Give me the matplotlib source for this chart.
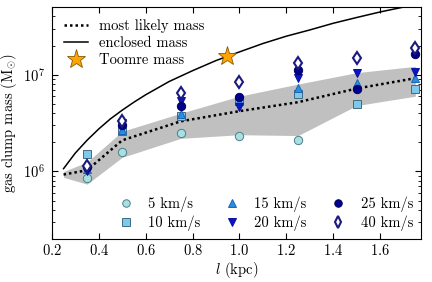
import matplotlib
matplotlib.use("Agg")
import matplotlib.pyplot as plt

plt.rcParams["font.family"] = ["cmr10", "DejaVu Serif"]
plt.rcParams["mathtext.fontset"] = "cm"
plt.rcParams["axes.formatter.use_mathtext"] = True

# clump size (kpc)
l_vals = [0.35, 0.5, 0.75, 1.0, 1.25, 1.5, 1.75]

# gas clump masses per velocity dispersion (Msun)
l_5 = [0.35, 0.5, 0.75, 1.0, 1.25]
m_5 = [8.5e5, 1.6e6, 2.5e6, 2.35e6, 2.1e6]
m_10 = [1.5e6, 2.6e6, 3.7e6, 5.3e6, 6.35e6, 5.0e6, 7.2e6]
m_15 = [1.05e6, 2.7e6, 3.9e6, 5.3e6, 7.3e6, 8.3e6, 9.3e6]
m_20 = [1.0e6, 3.2e6, 5.3e6, 4.6e6, 9.3e6, 1.05e7, 1.07e7]
m_25 = [1.1e6, 3.05e6, 4.7e6, 5.9e6, 1.13e7, 7.2e6, 1.65e7]
m_40 = [1.15e6, 3.3e6, 6.5e6, 8.5e6, 1.33e7, 1.5e7, 1.9e7]

# most likely mass and its range
likely_l = [0.25, 0.35, 0.5, 0.75, 1.0, 1.25, 1.5, 1.75]
likely_m = [9.3e5, 1.03e6, 2.1e6, 3.3e6, 4.2e6, 5.2e6, 7.2e6, 9.2e6]
band_lo = [8.7e5, 7.4e5, 1.4e6, 2.2e6, 2.4e6, 2.35e6, 4.8e6, 6.0e6]
band_hi = [1.0e6, 1.25e6, 2.6e6, 4.0e6, 6.0e6, 8.0e6, 1.05e7, 1.22e7]

# enclosed mass
encl_l = [0.25, 0.3, 0.35, 0.4, 0.45, 0.5, 0.55, 0.6, 0.7, 0.8, 0.9, 1.0,
          1.1, 1.2, 1.3, 1.4, 1.5, 1.6, 1.7, 1.75]
encl_m = [1.07e6, 1.55e6, 2.1e6, 2.75e6, 3.5e6, 4.3e6, 5.2e6, 6.2e6, 8.5e6,
          1.1e7, 1.4e7, 1.72e7, 2.1e7, 2.5e7, 2.9e7, 3.4e7, 3.9e7, 4.45e7,
          5.0e7, 5.3e7]

# Toomre mass
toomre_l = [0.945]
toomre_m = [1.57e7]

fs = 10.5

fig = plt.figure(figsize=(4.32, 2.82), dpi=100)
ax = fig.add_axes([0.120, 0.152, 0.855, 0.823])

ax.fill_between(likely_l, band_lo, band_hi, color="#c0c0c0", lw=0, zorder=1)
h_likely, = ax.plot(likely_l, likely_m, color="black", ls=(0, (1, 1.2)), lw=1.8,
                    label="most likely mass", zorder=2)
h_encl, = ax.plot(encl_l, encl_m, color="black", lw=1.1,
                  label="enclosed mass", zorder=2)
h_toomre, = ax.plot(toomre_l, toomre_m, ls="none", marker="*", ms=14,
                    mfc="#ffa500", mec="#8a5a00", mew=0.6,
                    label="Toomre mass", zorder=5)

ms = 6
h5, = ax.plot(l_5, m_5, ls="none", marker="o", ms=ms, mfc="#a8dfe3",
              mec="#4f7f86", mew=0.7, label="5 km/s", zorder=3)
h10, = ax.plot(l_vals, m_10, ls="none", marker="s", ms=ms, mfc="#80c8e8",
               mec="#3f6c84", mew=0.7, label="10 km/s", zorder=3)
h15, = ax.plot(l_vals, m_15, ls="none", marker="^", ms=ms, mfc="#2a8ee0",
               mec="#1c64b4", mew=0.7, label="15 km/s", zorder=3)
h20, = ax.plot(l_vals, m_20, ls="none", marker="v", ms=ms, mfc="#0a14c8",
               mec="#0a0f9a", mew=0.7, label="20 km/s", zorder=3)
h25, = ax.plot(l_vals, m_25, ls="none", marker="o", ms=ms, mfc="#000088",
               mec="#000066", mew=0.7, label="25 km/s", zorder=3)
h40, = ax.plot(l_vals, m_40, ls="none", marker="d", ms=ms + 0.5, mfc="white",
               mec="#1a1a80", mew=1.5, label="40 km/s", zorder=4)

ax.set_yscale("log")
ax.set_xlim(0.2, 1.775)
ax.set_ylim(2e5, 5e7)
ax.set_xticks([0.2, 0.4, 0.6, 0.8, 1.0, 1.2, 1.4, 1.6])
ax.tick_params(which="both", direction="in", top=True, right=True,
               labelsize=fs)
ax.tick_params(axis="x", pad=3)
ax.tick_params(axis="y", pad=5)
ax.tick_params(which="major", length=4)
ax.tick_params(which="minor", length=2)
ax.set_xlabel(r"$l$ (kpc)", fontsize=fs, labelpad=1)
ax.set_ylabel(r"gas clump mass (M$_{\odot}$)", fontsize=fs, labelpad=3)

leg1 = ax.legend(handles=[h_likely, h_encl, h_toomre], loc="upper left",
                 frameon=False, fontsize=fs, handlelength=1.7,
                 handletextpad=0.7, borderaxespad=0.4, labelspacing=0.25)
ax.add_artist(leg1)
ax.legend(handles=[h5, h10, h15, h20, h25, h40], loc="lower right", ncol=3,
          frameon=False, fontsize=fs, markerscale=0.9, handlelength=1.5,
          columnspacing=1.4, labelspacing=0.25, borderaxespad=0.15)

fig.savefig("out.png", dpi=100)
